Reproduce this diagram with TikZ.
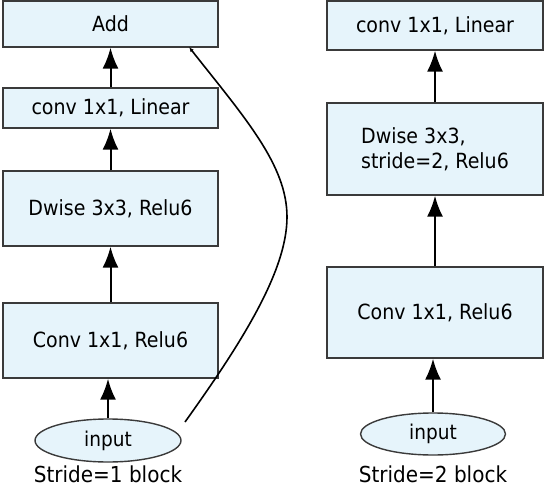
\documentclass[tikz,border=0pt]{standalone}
\usepackage{fontspec}
\usepackage{graphicx}
\setmainfont{DejaVu Sans}
\usetikzlibrary{arrows.meta,shapes.geometric}
\definecolor{boxfill}{HTML}{E6F4FB}
\definecolor{boxline}{HTML}{3A3A3A}
\newcommand{\tall}[1]{\scalebox{1}[1.1]{#1}}
\begin{document}
\begin{tikzpicture}[x=1pt,y=-1pt,
  blk/.style={draw=boxline,fill=boxfill,line width=1.4pt,rectangle,inner sep=0pt,
    font=\fontsize{19pt}{25pt}\selectfont},
  inp/.style={draw=boxline,fill=boxfill,line width=1.4pt,ellipse,inner sep=0pt,
    minimum width=146pt,minimum height=43pt,font=\fontsize{18.5pt}{24pt}\selectfont},
  captxt/.style={font=\fontsize{20pt}{24pt}\selectfont,inner sep=0pt,anchor=base},
  arr/.style={line width=2pt,draw=black,-{Latex[length=21pt,width=16pt]}},
  skiparr/.style={line width=1.6pt,draw=black,-{Latex[length=5pt,width=4pt]}}]
\useasboundingbox (0,0) rectangle (548,489);
% left column
\node[blk,minimum width=215pt,minimum height=46pt] (add) at (110.5,24) {\tall{Add}};
\node[blk,minimum width=215pt,minimum height=40pt] (linL) at (110.5,108) {\tall{conv 1x1, Linear}};
\node[blk,minimum width=215pt,minimum height=75pt] (dwL) at (110.5,208.5) {\tall{Dwise 3x3, Relu6}};
\node[blk,minimum width=215pt,minimum height=75pt] (exL) at (110.5,340.5) {\tall{Conv 1x1, Relu6}};
\node[inp] (inL) at (108,440.5) {\tall{input}};
\node[captxt] (capL) at (108,482.5) {\tall{Stride=1 block}};
\draw[arr] (inL.north) -- (inL.north |- exL.south);
\draw[arr] (exL.north) -- (dwL.south);
\draw[arr] (dwL.north) -- (linL.south);
\draw[arr] (linL.north) -- (add.south);
\coordinate (skS) at (185,422);
\coordinate (skE) at (189,47);
\draw[skiparr] (skS) .. controls (240,345) and (287,272) .. (287,217) .. controls (287,165) and (245,118) .. (skE);
% right column
\node[blk,minimum width=216pt,minimum height=49pt] (linR) at (435,25.5) {\tall{conv 1x1, Linear}};
\node[blk,minimum width=216pt,minimum height=92pt,align=left] (dwR) at (435,149) {\tall{Dwise 3x3,}\\\tall{stride=2, Relu6}};
\node[blk,minimum width=216pt,minimum height=91pt] (exR) at (435,312.5) {\tall{Conv 1x1, Relu6}};
\node[inp,minimum width=145pt,minimum height=42pt] (inR) at (433,434) {\tall{input}};
\node[captxt] (capR) at (433,482.5) {\tall{Stride=2 block}};
\draw[arr] (inR.north) -- (inR.north |- exR.south);
\draw[arr] (exR.north) -- (dwR.south);
\draw[arr] (dwR.north) -- (linR.south);
\end{tikzpicture}
\end{document}
